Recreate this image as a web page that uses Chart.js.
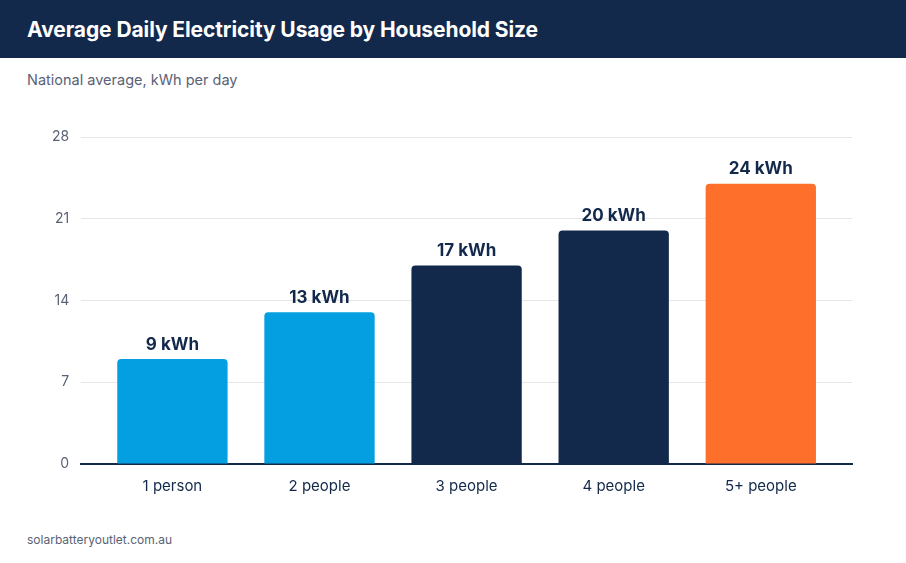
<!DOCTYPE html>
<html>
<head>
<meta charset="utf-8">
<script src="https://cdn.jsdelivr.net/npm/chart.js@4"></script>
<style>
  body { margin: 0; width: 906px; height: 563px; background: #fff; font-family: Inter, "Open Sans", sans-serif; position: relative; overflow: hidden; }
  .header { position: absolute; left: 0; top: 0; width: 906px; height: 58px; background: #13294B; }
  .header h1 { margin: 0; position: absolute; left: 27px; top: 17px; color: #fff; font-size: 21px; font-weight: 700; letter-spacing: -0.1px; }
  .sub { position: absolute; left: 27px; top: 71px; color: #5a6275; font-size: 14.5px; }
  .foot { position: absolute; left: 27px; top: 532px; color: #5a6275; font-size: 12px; }
  .wrap { position: absolute; left: 0; top: 110px; width: 906px; height: 400px; }
</style>
</head>
<body>
<div class="header"><h1>Average Daily Electricity Usage by Household Size</h1></div>
<div class="sub">National average, kWh per day</div>
<div class="wrap"><canvas id="chart"></canvas></div>
<div class="foot">solarbatteryoutlet.com.au</div>
<script>
  const categories = ['1 person', '2 people', '3 people', '4 people', '5+ people'];
  const usage = [9, 13, 17, 20, 24];
  const barColors = ['#039FE0', '#039FE0', '#13294B', '#13294B', '#FF6F2C'];
  const yTicks = [0, 7, 14, 21, 28];

  const valueLabels = {
    id: 'valueLabels',
    afterDatasetsDraw(chart) {
      const ctx = chart.ctx;
      const meta = chart.getDatasetMeta(0);
      ctx.save();
      ctx.font = '700 17px Inter, sans-serif';
      ctx.fillStyle = '#13294B';
      ctx.textAlign = 'center';
      ctx.textBaseline = 'bottom';
      meta.data.forEach((bar, i) => {
        ctx.fillText(usage[i] + ' kWh', bar.x, bar.y - 6);
      });
      ctx.restore();
    }
  };

  new Chart(document.getElementById('chart'), {
    type: 'bar',
    data: {
      datasets: [{
        data: usage.map((v, i) => ({ x: i, y: v })),
        backgroundColor: barColors,
        borderRadius: { topLeft: 4, topRight: 4 },
        borderSkipped: 'bottom',
        categoryPercentage: 1,
        barPercentage: 0.75
      }]
    },
    options: {
      responsive: true,
      maintainAspectRatio: false,
      animation: false,
      layout: { padding: { left: 40, right: 54, top: 27, bottom: 10 } },
      plugins: { legend: { display: false }, tooltip: { enabled: false } },
      scales: {
        y: {
          min: 0, max: 28,
          afterBuildTicks: s => { s.ticks = yTicks.map(v => ({ value: v })); },
          grid: { color: '#e6e6e6', drawTicks: false },
          border: { display: false },
          ticks: { color: '#5a6275', font: { size: 14, family: 'Inter' }, padding: 12 }
        },
        x: {
          type: 'linear',
          offset: false,
          min: -0.62, max: 4.62,
          afterBuildTicks: s => { s.ticks = categories.map((c, i) => ({ value: i })); },
          grid: { display: false },
          border: { color: '#13294B', width: 2 },
          ticks: { color: '#13294B', font: { size: 15, family: 'Inter' }, padding: 5, callback: v => categories[v] }
        }
      }
    },
    plugins: [valueLabels]
  });
</script>
</body>
</html>
